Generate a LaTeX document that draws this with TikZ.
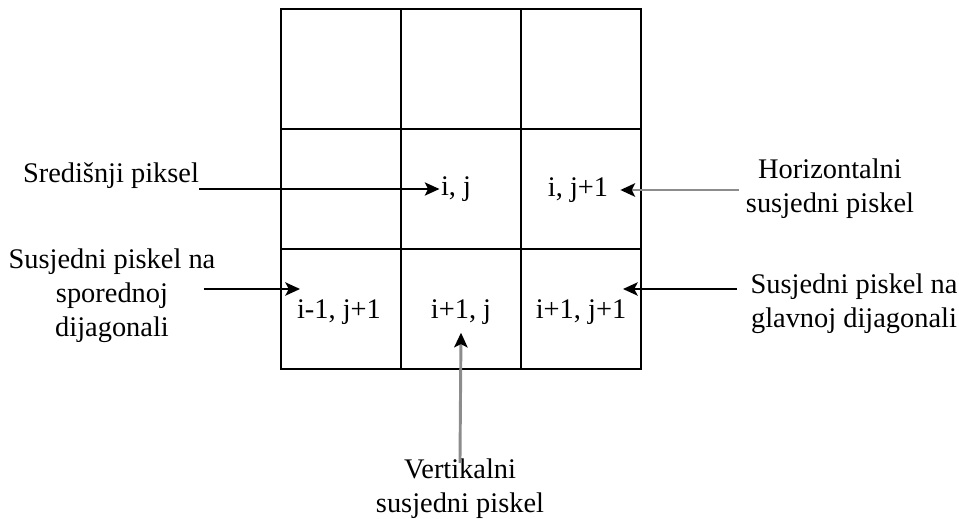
\documentclass[tikz,border=0pt]{standalone}
\usepackage{fontspec}
\setmainfont{Liberation Serif}
\usetikzlibrary{positioning,arrows.meta,calc}

\definecolor{linegray}{HTML}{8C8C8C}

\begin{document}
\begin{tikzpicture}[x=0.75pt, y=-0.75pt,
    cell/.style={draw, line width=1.1pt, minimum size=90pt, inner sep=0pt},
    lbl/.style={align=center, inner sep=0pt, font=\fontsize{21.3}{25.5}\selectfont},
    val/.style={inner sep=1pt, font=\fontsize{21.3}{25.5}\selectfont},
    dark/.style={-{Stealth[length=11pt, width=10pt, inset=2.5pt]}, line width=1.1pt},
    light/.style={-{Stealth[length=11pt, width=10pt, inset=2.5pt, color=black]}, draw=linegray, line width=2.2pt}]

    \useasboundingbox (0,0) rectangle (959,518);

    % mreza piksela
    \foreach \r in {1,2,3}
        \foreach \c in {1,2,3}
            \node[cell] (cell-\r-\c) at ({221+120*\c},{-51+120*\r}) {};

    \node[val] (ij) at (456,189) {i, j};
    \node[val] (ijr) at (578,190) {i, j+1};
    \node[val] (imjr) at (339,312) {i-1, j+1};
    \node[val] (ipj) at (461,312) {i+1, j};
    \node[val] (ipjr) at (581,312) {i+1, j+1};

    \coordinate (sp) at (300,289);
    \coordinate (gl) at (623,289);

    % opisi
    \node[lbl] (sred) at (111,176) {Središnji piksel};
    \node[lbl] (spor) at (112,296) {Susjedni piskel na\\sporednoj\\dijagonali};
    \node[lbl] (horiz) at (830,189) {Horizontalni\\susjedni piskel};
    \node[lbl] (glav) at (854,304) {Susjedni piskel na\\glavnoj dijagonali};
    \node[lbl] (vert) at (460,489) {Vertikalni\\susjedni piskel};

    \draw[dark] (sred.east |- ij) -- (ij.west);
    \draw[dark, shorten <=-9pt] (spor.east |- sp) -- (sp);
    \draw[light, shorten <=5pt] (horiz.west |- ijr) -- ([xshift=8pt]ijr.east);
    \draw[dark, shorten <=10pt] (glav.west |- gl) -- (gl);
    \draw[light, shorten <=-3pt] (vert.north) -- ([yshift=-5pt]ipj.south);

\end{tikzpicture}
\end{document}
